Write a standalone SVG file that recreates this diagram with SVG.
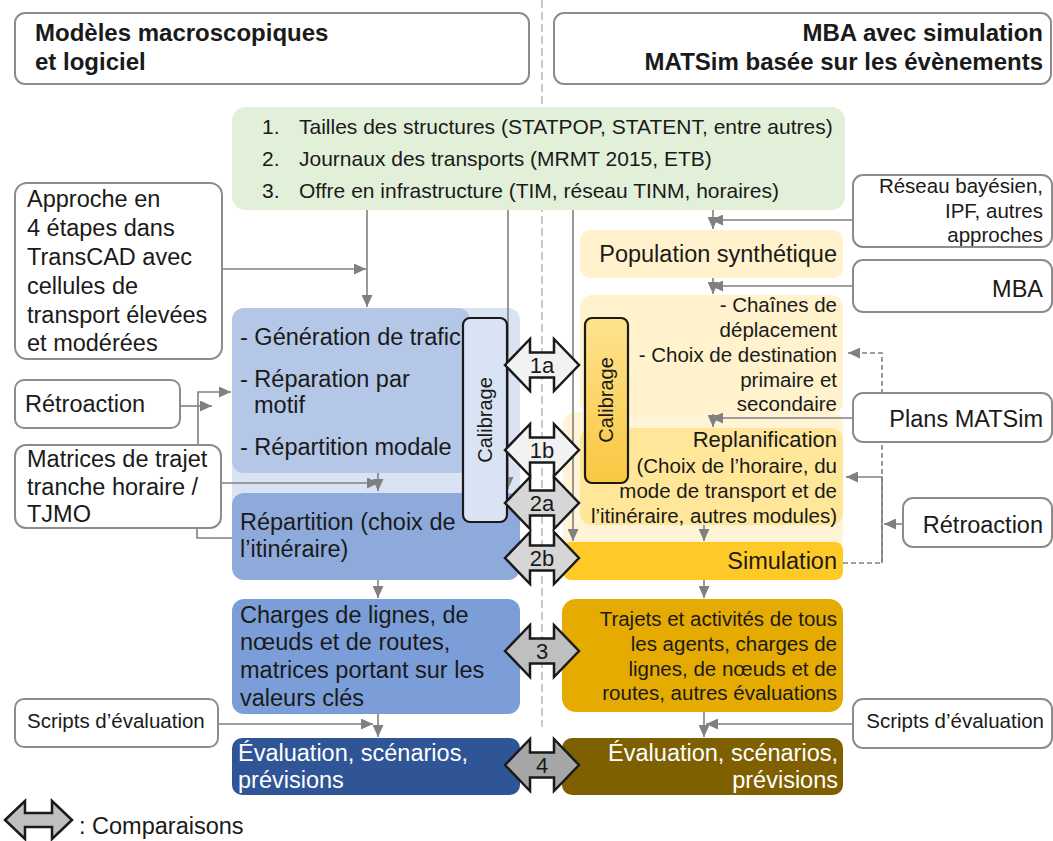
<svg xmlns="http://www.w3.org/2000/svg" width="1053" height="841" viewBox="0 0 1053 841">
<defs>
<style>
text{font-family:"Liberation Sans",Arial,sans-serif;fill:#1a1a1a}
.h{font-size:24px;font-weight:bold}
.b{font-size:23.5px}
.s{font-size:20.5px}
.g{font-size:21px}
.e{text-anchor:end}
.wt{fill:#ffffff}
.wb{fill:#ffffff;stroke:#8c8c8c;stroke-width:2}
.c{fill:none;stroke:#808080;stroke-width:1.6}
.a{marker-end:url(#ah)}
.d{stroke-dasharray:5 3}
.cmp{stroke:#1a1a1a;stroke-width:2.5;stroke-linejoin:miter}
.num{font-size:22px;text-anchor:middle}
.cal{stroke:#1a1a1a;stroke-width:2.2}
.calt{font-size:20px;text-anchor:middle}
</style>
<marker id="ah" markerUnits="userSpaceOnUse" markerWidth="12" markerHeight="11" refX="12" refY="5.5" orient="auto"><path d="M0,0 L12,5.5 L0,11 Z" fill="#808080"/></marker>
<path id="cmp" d="M-37,0 L-12,-26 L-12,-12.5 L12,-12.5 L12,-26 L37,0 L12,26 L12,12.5 L-12,12.5 L-12,26 Z"/>
<linearGradient id="calg" x1="0" y1="0" x2="0" y2="1"><stop offset="0" stop-color="#ffe38f"/><stop offset="1" stop-color="#f9c740"/></linearGradient>
</defs>
<rect width="1053" height="841" fill="#ffffff"/>

<line x1="542" y1="0" x2="542" y2="727" stroke="#a6a6a6" stroke-width="1.2" stroke-dasharray="8 4"/>

<g id="header-left"><rect x="15" y="13" width="514" height="71" rx="10" class="wb"/><text class="h" x="35" y="41">Modèles macroscopiques</text><text class="h" x="35" y="70">et logiciel</text></g>
<g id="header-right"><rect x="554" y="13" width="497" height="71" rx="10" class="wb"/><text class="h e" x="1043" y="41">MBA avec simulation</text><text class="h e" x="1043" y="70">MATSim basée sur les évènements</text></g>

<g id="inputs"><rect x="232" y="107" width="613" height="103" rx="14" fill="#e2f0d9"/>
<text class="g" x="262" y="134">1.</text><text class="g" x="299" y="134">Tailles des structures (STATPOP, STATENT, entre autres)</text>
<text class="g" x="262" y="166">2.</text><text class="g" x="299" y="166">Journaux des transports (MRMT 2015, ETB)</text>
<text class="g" x="262" y="198">3.</text><text class="g" x="299" y="198">Offre en infrastructure (TIM, réseau TINM, horaires)</text></g>

<g id="left-bg"><rect x="232" y="308" width="288" height="235" rx="12" fill="#dae3f3"/></g>
<g id="generation"><rect x="232" y="308" width="238" height="165" rx="12" fill="#b4c7e7"/>
<text class="b" x="240" y="345">- Génération de trafic</text>
<text class="b" x="240" y="387">- Réparation par</text>
<text class="b" x="254" y="413">motif</text>
<text class="b" x="240" y="455">- Répartition modale</text></g>
<g id="repartition"><rect x="232" y="493" width="288" height="87" rx="12" fill="#8eaadb"/>
<text class="b" x="240" y="530">Répartition (choix de</text><text class="b" x="240" y="557">l’itinéraire)</text></g>
<g id="charges"><rect x="232" y="599" width="288" height="115" rx="12" fill="#7b9ed9"/>
<text class="b" x="240" y="623">Charges de lignes, de</text><text class="b" x="240" y="650">nœuds et de routes,</text><text class="b" x="240" y="678">matrices portant sur les</text><text class="b" x="240" y="706">valeurs clés</text></g>
<g id="eval-left"><rect x="232" y="738" width="288" height="57" rx="10" fill="#2f5597"/>
<text class="b wt" x="238" y="761">Évaluation, scénarios,</text><text class="b wt" x="238" y="788">prévisions</text></g>

<g id="pop"><rect x="580" y="230" width="263" height="48" rx="10" fill="#fff2cc"/><text class="b e" x="837" y="262">Population synthétique</text></g>
<g id="right-bg"><rect x="563" y="412" width="280" height="140" rx="12" fill="#fff4d6"/></g>
<g id="chaines"><rect x="580" y="295" width="263" height="119" rx="12" fill="#fff2cc"/>
<text class="s e" x="837" y="312">- Chaînes de</text><text class="s e" x="837" y="337">déplacement</text><text class="s e" x="837" y="362">- Choix de destination</text><text class="s e" x="837" y="387">primaire et</text><text class="s e" x="837" y="411">secondaire</text></g>
<g id="replan"><rect x="580" y="428" width="263" height="97" rx="12" fill="#ffe699"/>
<text class="e" x="837" y="447" style="font-size:22px">Replanification</text>
<text class="s e" x="837" y="473">(Choix de l’horaire, du</text><text class="s e" x="837" y="498">mode de transport et de</text><text class="s e" x="837" y="523">l’itinéraire, autres modules)</text></g>
<g id="simulation"><rect x="563" y="542" width="280" height="38" rx="8" fill="#ffca28"/><text class="b e" x="837" y="569">Simulation</text></g>
<g id="trajets"><rect x="562" y="599" width="281" height="113" rx="14" fill="#e5ab00"/>
<text class="s e" x="837" y="626">Trajets et activités de tous</text><text class="s e" x="837" y="651">les agents, charges de</text><text class="s e" x="837" y="676">lignes, de nœuds et de</text><text class="s e" x="837" y="700">routes, autres évaluations</text></g>
<g id="eval-right"><rect x="562" y="738" width="281" height="57" rx="10" fill="#7f6000"/>
<text class="b e wt" x="838" y="761">Évaluation, scénarios,</text><text class="b e wt" x="838" y="788">prévisions</text></g>

<g id="connectors">
<path class="c a" d="M367,210 V307"/>
<path class="c a" d="M222,269 H366"/>
<path class="c a" d="M180,406 H212"/>
<path class="c a" d="M198,445 V392 H231"/>
<path class="c a" d="M221,483 H379"/>
<path class="c a" d="M378,473 V491"/>
<path class="c" d="M197,528 V538 H232"/>
<path class="c a" d="M508,210 V489"/>
<path class="c a" d="M573,210 V541"/>
<path class="c a" d="M378,580 V598"/>
<path class="c a" d="M378,714 V737"/>
<path class="c a" d="M218,724 H373"/>
<path class="c a" d="M713,210 V229"/>
<path class="c a" d="M853,220 H711"/>
<path class="c a" d="M713,278 V294"/>
<path class="c a" d="M853,286 H711"/>
<path class="c a" d="M713,414 V427"/>
<path class="c a" d="M853,418 H711"/>
<path class="c a" d="M704,525 V541"/>
<path class="c a" d="M704,580 V598"/>
<path class="c a" d="M704,712 V737"/>
<path class="c a" d="M853,724 H706"/>
<path class="c d a" d="M843,563 H882 V353 H848"/>
<path class="c a" d="M882,563 V477 H846"/>
<path class="c a" d="M903,524 H884"/>
</g>

<g id="approche"><rect x="15" y="183" width="207" height="176" rx="12" class="wb"/>
<text class="b" x="27" y="207">Approche en</text><text class="b" x="27" y="236">4 étapes dans</text><text class="b" x="27" y="265">TransCAD avec</text><text class="b" x="27" y="294">cellules de</text><text class="b" x="27" y="323">transport élevées</text><text class="b" x="27" y="351">et modérées</text></g>
<g id="retro-left"><rect x="15" y="380" width="165" height="48" rx="9" class="wb"/><text class="b" x="25" y="412">Rétroaction</text></g>
<g id="matrices"><rect x="15" y="445" width="206" height="83" rx="11" class="wb"/>
<text class="b" x="27" y="467">Matrices de trajet</text><text class="b" x="27" y="495">tranche horaire /</text><text class="b" x="27" y="522">TJMO</text></g>
<g id="scripts-left"><rect x="15" y="699" width="203" height="48" rx="9" class="wb"/><text class="s" x="27" y="728">Scripts d’évaluation</text></g>

<g id="reseau"><rect x="853" y="175" width="199" height="72" rx="10" class="wb"/>
<text class="s e" x="1043" y="193">Réseau bayésien,</text><text class="s e" x="1043" y="218">IPF, autres</text><text class="s e" x="1043" y="242">approches</text></g>
<g id="mba"><rect x="853" y="260" width="199" height="52" rx="10" class="wb"/><text class="b e" x="1043" y="297">MBA</text></g>
<g id="plans"><rect x="853" y="393" width="199" height="49" rx="10" class="wb"/><text class="b e" x="1043" y="427">Plans MATSim</text></g>
<g id="retro-right"><rect x="903" y="498" width="149" height="49" rx="10" class="wb"/><text class="b e" x="1043" y="533">Rétroaction</text></g>
<g id="scripts-right"><rect x="853" y="699" width="199" height="49" rx="10" class="wb"/><text class="s e" x="1044" y="728">Scripts d’évaluation</text></g>

<g id="calibrage-left"><rect x="463" y="318" width="44" height="204" rx="7" fill="#dae3f3" class="cal"/><text class="calt" transform="translate(492,420) rotate(-90)">Calibrage</text></g>
<g id="calibrage-right"><rect x="585" y="318" width="43" height="165" rx="7" fill="url(#calg)" class="cal"/><text class="calt" transform="translate(613,400) rotate(-90)">Calibrage</text></g>

<g id="comparisons">
<use href="#cmp" x="542" y="365" fill="#f2f2f2" class="cmp"/><text class="num" x="542" y="373">1a</text>
<use href="#cmp" x="542" y="450" fill="#f2f2f2" class="cmp"/><text class="num" x="542" y="458">1b</text>
<use href="#cmp" x="542" y="503" fill="#d6d6d6" class="cmp"/><text class="num" x="542" y="511">2a</text>
<use href="#cmp" x="542" y="558" fill="#d6d6d6" class="cmp"/><text class="num" x="542" y="566">2b</text>
<use href="#cmp" x="542" y="651" fill="#bfbfbf" class="cmp"/><text class="num" x="542" y="659">3</text>
<use href="#cmp" x="542" y="765" fill="#a6a6a6" class="cmp"/><text class="num" x="542" y="773">4</text>
</g>

<g id="legend"><path d="M5,820 L25,801 L25,813 L52,813 L52,801 L72,820 L52,839 L52,827 L25,827 L25,839 Z" fill="#bfbfbf" class="cmp"/><text class="b" x="79" y="834">: Comparaisons</text></g>
</svg>
